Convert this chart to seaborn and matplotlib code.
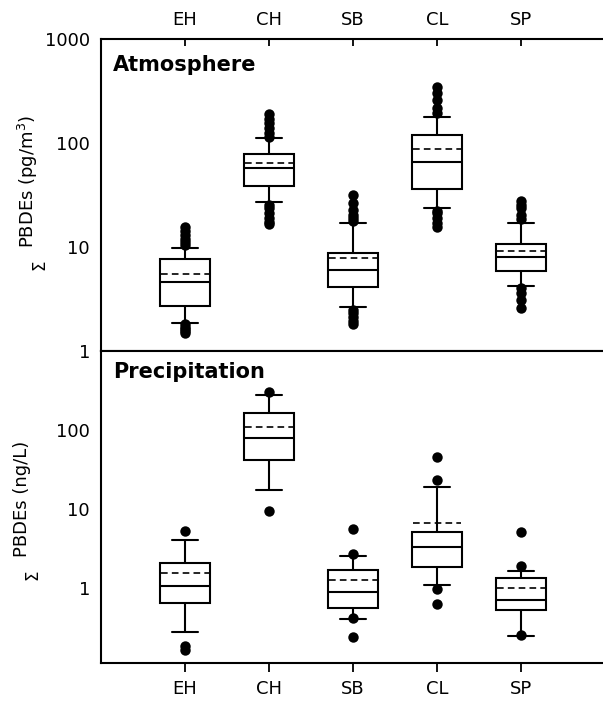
import numpy as np
import pandas as pd
import matplotlib
matplotlib.use('Agg')
import matplotlib.pyplot as plt
from matplotlib.ticker import NullLocator
import seaborn as sns

sites = ['EH', 'CH', 'SB', 'CL', 'SP']

# Atmosphere (pg/m3): whisker low (10th), Q1, median, Q3, whisker high (90th), mean
atm_low = [1.85, 26.9, 2.63, 23.6, 4.25]
atm_q1 = [2.71, 38.9, 4.15, 36.1, 5.9]
atm_med = [4.6, 57.9, 6.0, 65.2, 8.07]
atm_q3 = [7.67, 78.4, 8.7, 120, 10.7]
atm_high = [9.7, 111.7, 17.0, 178, 17.0]
atm_mean = [5.46, 64.7, 7.9, 87.5, 9.2]
atm_out = [
    [15.7, 14.3, 13.0, 12.0, 11.2, 10.5, 1.8, 1.72, 1.63, 1.55, 1.49],
    [190, 172, 155, 140, 125, 115, 25.5, 23.5, 21, 19, 17.5, 16.8],
    [31.6, 26.3, 22.5, 20.5, 19, 17.8, 2.5, 2.3, 2.1, 1.95, 1.8],
    [348, 305, 259, 216, 193, 22, 21.1, 18.8, 16.9, 15.7],
    [27.6, 25.5, 23.5, 20.3, 18.5, 4.0, 3.59, 3.09, 2.57],
]

# Precipitation (ng/L)
pre_low = [0.277, 17.6, 0.40, 1.08, 0.247]
pre_q1 = [0.646, 42.1, 0.558, 1.83, 0.532]
pre_med = [1.05, 80, 0.899, 3.33, 0.705]
pre_q3 = [2.05, 164, 1.71, 5.07, 1.33]
pre_high = [4.08, 275, 2.52, 19.0, 1.64]
pre_mean = [1.55, 110, 1.27, 6.65, 1.01]
pre_out = [
    [5.2, 0.165, 0.185],
    [302, 9.35],
    [5.63, 2.67, 0.41, 0.24],
    [45.5, 23.1, 0.98, 0.63],
    [5.16, 1.88, 0.25],
]


def box_frame(low, q1, med, q3, high):
    rows = []
    for s, a, b, c, d, e in zip(sites, low, q1, med, q3, high):
        for v in (a, b, c, d, e):
            rows.append({'site': s, 'value': v})
    return pd.DataFrame(rows)


def out_frame(outs):
    return pd.DataFrame([{'site': s, 'value': v} for s, vs in zip(sites, outs) for v in vs])


sns.set_style('ticks')
plt.rcParams['font.family'] = ['DejaVu Sans']
plt.rcParams['text.color'] = 'black'
plt.rcParams['xtick.color'] = 'black'
plt.rcParams['ytick.color'] = 'black'

fig = plt.figure(figsize=(6.03, 7.02), dpi=100)
ax1 = fig.add_axes([101/603, 0.5, 504/603, 312/702])
ax2 = fig.add_axes([101/603, 1 - 663/702, 504/603, 312/702])

panels = [
    (ax1, box_frame(atm_low, atm_q1, atm_med, atm_q3, atm_high), atm_mean, out_frame(atm_out)),
    (ax2, box_frame(pre_low, pre_q1, pre_med, pre_q3, pre_high), pre_mean, out_frame(pre_out)),
]

for ax, bdf, means, odf in panels:
    sns.boxplot(data=bdf, x='site', y='value', order=sites, whis=(0, 100), log_scale=True,
                width=0.6, color='white', linecolor='black', linewidth=1.5,
                fliersize=0, ax=ax)
    pos = np.arange(len(sites))
    ax.hlines(means, pos - 0.29, pos + 0.29, colors='black', linestyles=(0, (4, 2.5)),
              lw=1.2, zorder=5)
    sns.stripplot(data=odf, x='site', y='value', order=sites, jitter=False,
                  color='black', size=7.5, ax=ax, zorder=6)
    ax.set_xlim(-1, 5)
    ax.set_xlabel('')
    ax.set_ylabel('')
    ax.yaxis.set_minor_locator(NullLocator())
    ax.tick_params(axis='y', length=0, pad=8, labelsize=13)
    ax.spines['right'].set_visible(False)
    for sp in ax.spines.values():
        sp.set_linewidth(1.5)
        sp.set_color('black')

# top panel
ax1.set_ylim(1, 1000)
ax1.set_yticks([1, 10, 100, 1000])
ax1.set_yticklabels(['1', '10', '100', '1000'])
ax1.xaxis.tick_top()
ax1.tick_params(axis='x', direction='in', length=5, width=1.3, pad=7, labelsize=13)
ax1.text(0.024, 0.917, 'Atmosphere', transform=ax1.transAxes, fontsize=15,
         fontweight='bold', va='center', ha='left')

# bottom panel
ax2.set_ylim(0.112, 1000)
ax2.set_yticks([1, 10, 100])
ax2.set_yticklabels(['1', '10', '100'])
ax2.tick_params(axis='x', direction='out', length=6.5, width=1.3, pad=6, labelsize=13)
ax2.text(0.024, 0.933, 'Precipitation', transform=ax2.transAxes, fontsize=15,
         fontweight='bold', va='center', ha='left')

# y labels with the offset sigma
fig.text(0.046, 0.742, 'PBDEs (pg/m$^3$)', rotation=90, ha='center', va='center', fontsize=13)
fig.text(0.065, 0.6225, 'Σ', rotation=90, ha='center', va='center', fontsize=12)
fig.text(0.037, 0.290, 'PBDEs (ng/L)', rotation=90, ha='center', va='center', fontsize=13)
fig.text(0.053, 0.181, 'Σ', rotation=90, ha='center', va='center', fontsize=12)

fig.savefig('out.png', dpi=100, facecolor='white')
plt.close()
